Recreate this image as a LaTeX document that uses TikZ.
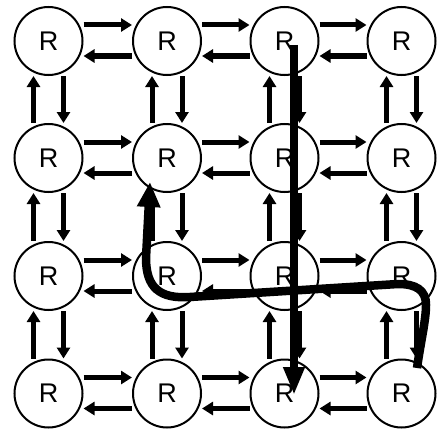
\documentclass[tikz,border=0pt]{standalone}
\usepackage{fontspec}
\setmainfont{Liberation Sans}
\usetikzlibrary{arrows.meta}
\begin{document}
\begin{tikzpicture}[x=1pt,y=-1pt,
  router/.style={circle,draw,line width=2pt,fill=white,minimum size=68pt,inner sep=0pt,font=\fontsize{27}{27}\selectfont},
  link/.style={line width=5pt,-{Triangle[length=11pt,width=13pt]}},
  route/.style={line width=8.5pt}]
\useasboundingbox (0,0) rectangle (441,428);
\foreach \i/\x in {0/48.5,1/167,2/284.5,3/401.5}
  \foreach \j/\y in {0/41,1/158,2/276,3/393.5}
    \node[router] (n-\i-\j) at (\x,\y) {R};
\foreach \i/\k in {0/1,1/2,2/3}
  \foreach \j in {0,...,3} {
    \draw[link] ([yshift=16pt]n-\i-\j.east) -- ([yshift=16pt]n-\k-\j.west);
    \draw[link] ([yshift=-15pt]n-\k-\j.west) -- ([yshift=-15pt]n-\i-\j.east);
  }
\foreach \j/\l in {0/1,1/2,2/3}
  \foreach \i in {0,...,3} {
    \draw[link] ([xshift=-15pt]n-\i-\l.north) -- ([xshift=-15pt]n-\i-\j.south);
    \draw[link] ([xshift=15pt]n-\i-\j.south) -- ([xshift=15pt]n-\i-\l.north);
  }
\draw[route,-{Triangle[length=28pt,width=20pt]}]
  ([xshift=9.5pt,yshift=-4pt]n-2-0.center) -- ([xshift=9.5pt,yshift=-1.5pt]n-2-3.center);
\coordinate (rs) at ([xshift=15.5pt,yshift=25.5pt]n-3-3.center);
\coordinate (re) at ([xshift=-17pt,yshift=-24pt]n-1-1.center);
\draw[route,-{Triangle[length=25pt,width=22pt]}]
  (rs) .. controls (421,340) and (426,320) .. (426,305)
  .. controls (426,290) and (416,284) .. (398,284)
  -- (190,297)
  .. controls (160,299) and (146,288) .. (146,258)
  -- (re);
\end{tikzpicture}
\end{document}
